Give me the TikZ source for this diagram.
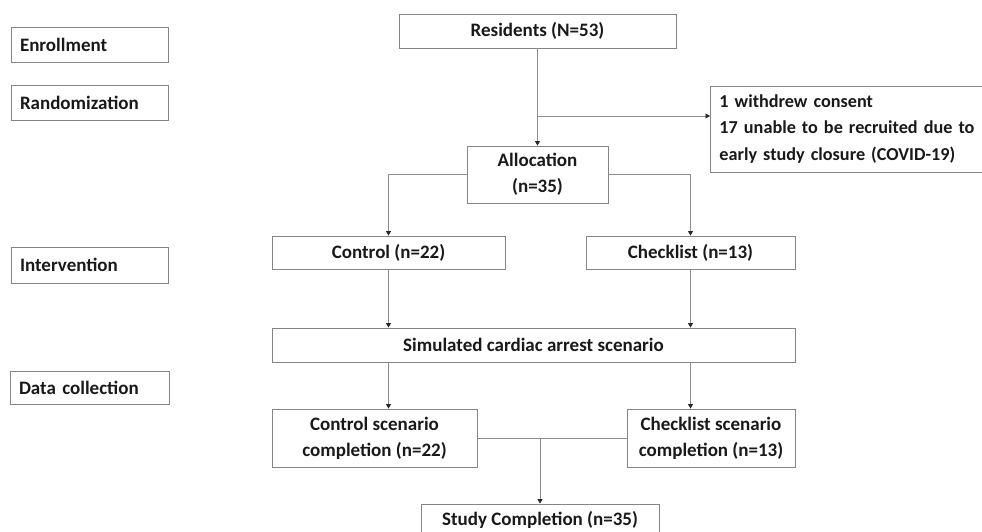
\documentclass[tikz,border=0pt]{standalone}
\usepackage{fontspec}
\setmainfont{Carlito}
\usetikzlibrary{arrows.meta}
\tikzset{
  bx/.style={draw=black!48, line width=0.9pt, inner sep=0pt, align=center,
    font=\fontsize{19}{26}\selectfont\bfseries, text=black!90},
  stage/.style={bx, inner xsep=9pt, text width=139pt, align=left, minimum height=35pt},
  conn/.style={-{Triangle[length=4.5pt,width=5pt,color=black!85]}, black!45, line width=0.8pt},
  ln/.style={black!45, line width=0.8pt},
}
\begin{document}
\begin{tikzpicture}[x=1pt,y=-1pt]
  \useasboundingbox (0,0) rectangle (982,532);
  % stage labels on the left
  \node[stage] (enrol) at (89.5,44.5) {Enrollment};
  \node[stage] (rand) at (89.5,102.5) {Randomization};
  \node[stage, minimum height=36pt] (interv) at (89.5,265) {Intervention};
  \node[stage, minimum height=33pt, text width=141pt] (datac) at (89.5,387.5) {Data collection};
  % flow boxes
  \node[bx, minimum width=277pt, minimum height=34pt] (res) at (537.5,31) {Residents (N=53)};
  \node[bx, anchor=west, inner xsep=9pt, text width=272pt, align=left, minimum height=86pt,
    font=\fontsize{18.2}{26.5}\selectfont\bfseries] (excl) at (710,129)
    {1 withdrew consent\\17 unable to be recruited due to\\early study closure (COVID-19)};
  \node[bx, minimum width=141pt, minimum height=57pt] (alloc) at (537.5,174.5) {Allocation\\(n=35)};
  \node[bx, minimum width=233pt, minimum height=33pt] (ctrl) at (388.5,252.5) {Control (n=22)};
  \node[bx, minimum width=209pt, minimum height=33pt] (chk) at (690.5,252.5) {Checklist (n=13)};
  \node[bx, minimum width=523pt, minimum height=34pt] (sim) at (533.5,345) {Simulated cardiac arrest scenario};
  \node[bx, minimum width=205pt, minimum height=58pt] (ctrlsc) at (374.5,438) {Control scenario\\completion (n=22)};
  \node[bx, minimum width=168pt, minimum height=58pt] (chksc) at (711,438) {Checklist scenario\\completion (n=13)};
  \node[bx, minimum width=238pt, minimum height=32pt] (study) at (540,520) {Study Completion (n=35)};
  % connectors
  \coordinate (br) at (538,116);
  \draw[conn] (res) -- (alloc);
  \draw[conn] (br) -- (excl.west |- br);
  \draw[conn] (alloc.west) -| (ctrl.north);
  \draw[conn] (alloc.east) -| (chk.north);
  \draw[conn] (ctrl) -- (ctrl |- sim.north);
  \draw[conn] (chk) -- (chk |- sim.north);
  \draw[conn] (ctrl |- sim.south) -- (ctrl |- ctrlsc.north);
  \draw[conn] (chk |- sim.south) -- (chk |- chksc.north);
  \draw[ln] (ctrlsc) -- (chksc);
  \coordinate (jn) at (study.north |- ctrlsc.east);
  \draw[conn] (jn) -- (study);
\end{tikzpicture}
\end{document}
